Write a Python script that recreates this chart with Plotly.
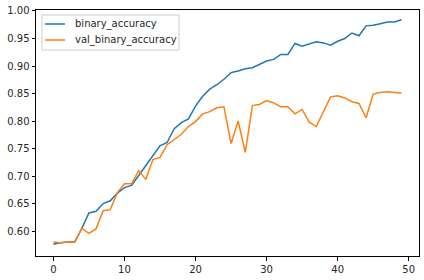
import plotly.graph_objects as go

epochs = list(range(50))
binary_accuracy = [0.576, 0.579, 0.580, 0.580, 0.605, 0.633, 0.636, 0.650, 0.655, 0.669,
                   0.679, 0.683, 0.701, 0.719, 0.736, 0.755, 0.761, 0.786, 0.797, 0.804,
                   0.827, 0.845, 0.858, 0.866, 0.876, 0.888, 0.891, 0.895, 0.897, 0.903,
                   0.909, 0.912, 0.921, 0.921, 0.941, 0.936, 0.940, 0.944, 0.942, 0.938,
                   0.945, 0.950, 0.960, 0.955, 0.973, 0.974, 0.977, 0.980, 0.980, 0.984]
val_binary_accuracy = [0.580, 0.579, 0.580, 0.580, 0.605, 0.596, 0.604, 0.637, 0.639, 0.670,
                       0.686, 0.686, 0.710, 0.694, 0.730, 0.734, 0.757, 0.766, 0.776, 0.790,
                       0.799, 0.813, 0.817, 0.824, 0.826, 0.759, 0.800, 0.743, 0.828, 0.830,
                       0.837, 0.833, 0.826, 0.826, 0.813, 0.821, 0.798, 0.790, 0.818, 0.844,
                       0.846, 0.842, 0.835, 0.832, 0.806, 0.849, 0.852, 0.853, 0.852, 0.851]
series_names = ["binary_accuracy", "val_binary_accuracy"]
series_colors = ["#1f77b4", "#ff7f0e"]
x_ticks = [0, 10, 20, 30, 40, 50]
y_ticks = [0.60, 0.65, 0.70, 0.75, 0.80, 0.85, 0.90, 0.95, 1.00]

W, H = 424, 280
ML, MR, MT, MB = 36, 5, 10, 24
PW, PH = W - ML - MR, H - MT - MB


def px_x(px):
    return (px - ML) / PW


def px_y(py):
    return (H - MB - py) / PH


fig = go.Figure()
for name, vals, col in zip(series_names, [binary_accuracy, val_binary_accuracy], series_colors):
    fig.add_trace(go.Scatter(x=epochs, y=vals, mode="lines", name=name,
                             line=dict(color=col, width=1.5), showlegend=False))

axis_common = dict(showgrid=False, zeroline=False, showline=True, linecolor="black", linewidth=1,
                   mirror=True, ticks="outside", ticklen=3.5, tickwidth=0.8, tickcolor="black",
                   tickfont=dict(family="DejaVu Sans", size=10, color="#262626"))

# matplotlib-style legend box
shapes = [dict(type="rect", xref="paper", yref="paper",
               x0=px_x(42), x1=px_x(179), y0=px_y(50), y1=px_y(15),
               line=dict(color="#cccccc", width=1), fillcolor="rgba(255,255,255,0.8)", layer="above")]
annotations = []
for k, (name, col) in enumerate(zip(series_names, series_colors)):
    yy = px_y(24 + 16 * k)
    shapes.append(dict(type="line", xref="paper", yref="paper", x0=px_x(45), x1=px_x(65),
                       y0=yy, y1=yy, line=dict(color=col, width=1.5), layer="above"))
    annotations.append(dict(xref="paper", yref="paper", x=px_x(73), y=yy, text=name,
                            showarrow=False, xanchor="left", yanchor="middle",
                            font=dict(family="DejaVu Sans", size=10, color="#262626")))

fig.update_layout(
    width=W, height=H,
    margin=dict(l=ML, r=MR, t=MT, b=MB),
    paper_bgcolor="white", plot_bgcolor="white",
    xaxis=dict(range=[-2.45, 51.45], tickvals=x_ticks, **axis_common),
    yaxis=dict(range=[0.5547, 1.0018], tickvals=y_ticks, tickformat=".2f", **axis_common),
    shapes=shapes, annotations=annotations,
    showlegend=False,
)
fig.write_html("out.html")
